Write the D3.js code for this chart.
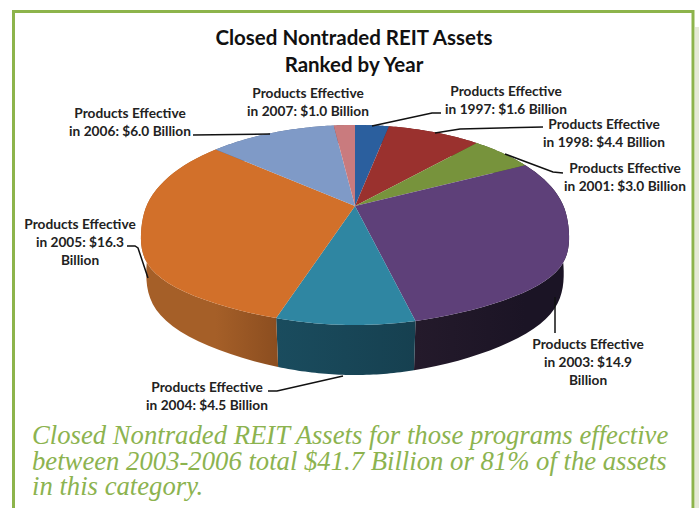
<!DOCTYPE html>
<html><head><meta charset="utf-8">
<script src="https://cdnjs.cloudflare.com/ajax/libs/d3/7.8.5/d3.min.js"></script>
<style>html,body{margin:0;padding:0;background:#fff}svg{display:block}</style>
</head><body><svg id="chart" width="699" height="508"></svg>
<script>
// Closed nontraded REIT assets by program year, in billions of dollars
const years = ["1997","1998","2001","2003","2004","2005","2006","2007"];
const assets = [1.6,4.4,3.0,14.9,4.5,16.3,6.0,1.0];
const topColors = ["#2b5f9e","#9a312e","#77933c","#5e4079","#2f86a2","#d2702a","#7f9ac7","#c97b7e"];
const sideColors = [["#1c3f69","#1c3f69"],["#662120","#662120"],["#4f6228","#4f6228"],["#1b1425","#241a2b"],["#164050","#1a4c5e"],["#8c4e20","#a55f28"],["#55678a","#55678a"],["#855254","#855254"]];
const labelLines = [
  ["Products Effective","in 1997: $1.6 Billion"],
  ["Products Effective","in 1998: $4.4 Billion"],
  ["Products Effective","in 2001: $3.0 Billion"],
  ["Products Effective","in 2003: $14.9","Billion"],
  ["Products Effective","in 2004: $4.5 Billion"],
  ["Products Effective","in 2005: $16.3","Billion"],
  ["Products Effective","in 2006: $6.0 Billion"],
  ["Products Effective","in 2007: $1.0 Billion"]
];
const captionLines = [
  "Closed Nontraded REIT Assets for those programs effective",
  "between 2003-2006 total $41.7 Billion or 81% of the assets",
  "in this category."
];
const titleLines = ["Closed Nontraded REIT Assets","Ranked by Year"];

// Label placement: centre x, first line centre y
const labelAnchor = [[506,91],[604,124],[625,168],[588,344],[207,387],[80,224],[130,113],[308,93]];
// Leader lines from each label to its slice
const leaders = [
  [[441,113],[432,113],[372,126]],
  [[543,127],[460,129],[435,133]],
  [[563,173],[553,172],[505,154]],
  [[555,333],[555,297]],
  [[268,391],[277,391],[343,376]],
  [[127,246],[135,246],[138,248],[148,278]],
  [[193,135],[270,134]],
  []
];

const svg = d3.select("#chart");

// Page frame and the tinted panel beyond it
svg.append("rect").attr("x",695).attr("y",27).attr("width",4).attr("height",481).attr("fill","#e5e9d6");
svg.append("path").attr("d","M13.5,508V11.5H693V508").attr("fill","none").attr("stroke","#8db44b").attr("stroke-width",3);

// Perspective view of the pie disc: turn angle into a point on the top rim
const cx = 355, cy = 206, halfW = 208.5, halfH = 96.4, persp = 0.19;
function rim(a){
  const u = Math.sin(a), v = Math.cos(a), s = 1/(1+persp*v);
  const sq = v < 0 ? 1 + 0.08*Math.pow(Math.abs(Math.sin(2*a)),3) : 1;
  return [cx + halfW*u*s*sq, cy - halfH*v*s];
}
// Matching point on the lower rim of the disc's edge
function lowerRim(a){
  const p = rim(a);
  return [cx + (p[0]-cx)*0.975, 259 + (p[1]-225)*1.16];
}

const pie = d3.pie().sort(null).value(d=>d)(assets);
const line = d3.line();
const rimPoints = (d,f)=>d3.range(0,41).map(i=>f(d.startAngle+(d.endAngle-d.startAngle)*i/40));

const defs = svg.append("defs");
pie.forEach((d,i)=>{
  const g = defs.append("linearGradient").attr("id","edge"+i)
    .attr("gradientUnits","userSpaceOnUse")
    .attr("x1",rim(d.endAngle)[0]).attr("x2",rim(d.startAngle)[0]).attr("y1",0).attr("y2",0);
  g.append("stop").attr("offset",0).attr("stop-color",sideColors[i][1]);
  g.append("stop").attr("offset",1).attr("stop-color",sideColors[i][0]);
});

// Disc edge first, then the top face over it
svg.append("g").selectAll("path").data(pie).join("path")
  .attr("d",d=>line(rimPoints(d,rim).concat(rimPoints(d,lowerRim).reverse()))+"Z")
  .attr("fill",(d,i)=>`url(#edge${i})`);
svg.append("g").selectAll("path").data(pie).join("path")
  .attr("d",d=>line([[cx,cy]].concat(rimPoints(d,rim)))+"Z")
  .attr("fill",(d,i)=>topColors[i]);

// Leaders
svg.append("g").selectAll("path").data(leaders.filter(l=>l.length)).join("path")
  .attr("d",line).attr("fill","none").attr("stroke","#111").attr("stroke-width",1.5);

// Title
svg.append("g").selectAll("text").data(titleLines).join("text")
  .attr("x",354).attr("y",(d,i)=>38+i*27).attr("dy","0.35em").attr("text-anchor","middle")
  .attr("font-family","Lato").attr("font-weight",700).attr("font-size",20.5).attr("fill","#111")
  .text(d=>d);

// Slice labels
const lab = svg.append("g").selectAll("g").data(years).join("g");
lab.selectAll("text").data((y,i)=>labelLines[i].map((t,k)=>({t,k,i}))).join("text")
  .attr("x",d=>labelAnchor[d.i][0]).attr("y",d=>labelAnchor[d.i][1]+d.k*18.3).attr("dy","0.35em")
  .attr("text-anchor","middle").attr("font-family","Lato").attr("font-weight",700)
  .attr("font-size",13.7).attr("fill","#222").text(d=>d.t);

// Caption
svg.append("g").selectAll("text").data(captionLines).join("text")
  .attr("x",32).attr("y",(d,i)=>444+i*25.5)
  .attr("font-family","Liberation Serif").attr("font-style","italic").attr("font-size",26.7)
  .attr("fill","#8cb34f").text(d=>d);
</script></body></html>
